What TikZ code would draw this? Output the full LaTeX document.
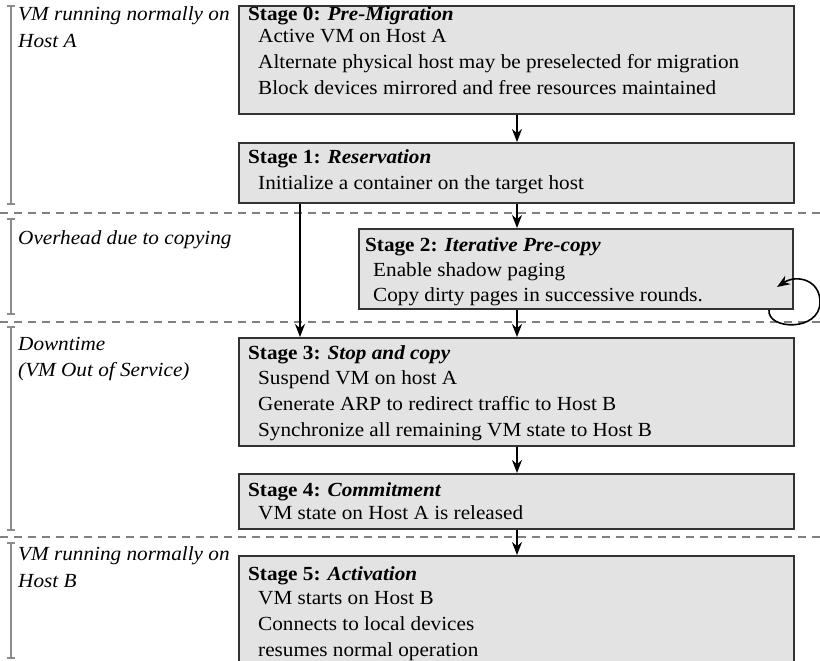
\documentclass[tikz,border=0pt]{standalone}
\usepackage{fontspec}
\setmainfont[FakeStretch=1.06]{Liberation Serif}
\usetikzlibrary{arrows.meta,calc}
\begin{document}
\begin{tikzpicture}[x=1pt,y=-1pt,
  stagebox/.style={draw=black!80,line width=2pt,fill=black!11,anchor=north west,inner sep=0pt},
  txt/.style={anchor=base west,inner sep=0pt,font=\fontsize{20}{24}\selectfont},
  lbl/.style={anchor=base west,inner sep=0pt,font=\fontsize{20}{24}\selectfont\itshape},
  arr/.style={-{Stealth[length=13pt,width=10pt]},line width=1.6pt,black},
  sep/.style={draw=black!50,line width=2pt,dash pattern=on 8pt off 6pt},
  bar/.style={draw=black!45,line width=2pt,{Bar[width=8pt]}-{Bar[width=8pt]}}
]
\clip (0,0) rectangle (820,661);
\fill[white] (0,0) rectangle (820,661);

% separators
\draw[sep] (0,213) -- (820,213);
\draw[sep] (0,322) -- (820,322);
\draw[sep] (0,537) -- (820,537);

% left bars
\draw[bar] (11,5) -- (11,205);
\draw[bar] (11,218) -- (11,315);
\draw[bar] (11,326) -- (11,531);
\draw[bar] (11,542) -- (11,659);

% left labels
\node[lbl] (l0a) at (18,21) {VM running normally on};
\node[lbl] (l0b) at (18,48) {Host A};
\node[lbl] (l1) at (18,244) {Overhead due to copying};
\node[lbl] (l2a) at (18,350) {Downtime};
\node[lbl] (l2b) at (18,376) {(VM Out of Service)};
\node[lbl] (l3a) at (18,560) {VM running normally on};
\node[lbl] (l3b) at (18,587) {Host B};

% boxes
\node[stagebox,minimum width=555pt,minimum height=108pt] (s0) at (238,5) {};
\node[stagebox,minimum width=555pt,minimum height=60pt] (s1) at (238,142) {};
\node[stagebox,minimum width=434pt,minimum height=80pt] (s2) at (358,228) {};
\node[stagebox,minimum width=555pt,minimum height=108pt] (s3) at (238,337) {};
\node[stagebox,minimum width=555pt,minimum height=55pt] (s4) at (238,473) {};
\node[stagebox,minimum width=555pt,minimum height=140pt] (s5) at (238,555) {};

% box texts
\node[txt] (t0) at (248,21) {\bfseries Stage 0: \itshape Pre-Migration};
\node[txt] (t0a) at (258,43) {Active VM on Host A};
\node[txt] (t0b) at (258,69) {Alternate physical host may be preselected for migration};
\node[txt] (t0c) at (258,95) {Block devices mirrored and free resources maintained};

\node[txt] (t1) at (248,163) {\bfseries Stage 1: \itshape Reservation};
\node[txt] (t1a) at (258,189) {Initialize a container on the target host};

\node[txt] (t2) at (365,251) {\bfseries Stage 2: \itshape Iterative Pre-copy};
\node[txt] (t2a) at (373,276) {Enable shadow paging};
\node[txt] (t2b) at (373,301) {Copy dirty pages in successive rounds.};

\node[txt] (t3) at (248,359) {\bfseries Stage 3: \itshape Stop and copy};
\node[txt] (t3a) at (258,384) {Suspend VM on host A};
\node[txt] (t3b) at (258,410) {Generate ARP to redirect traffic to Host B};
\node[txt] (t3c) at (258,436) {Synchronize all remaining VM state to Host B};

\node[txt] (t4) at (248,496) {\bfseries Stage 4: \itshape Commitment};
\node[txt] (t4a) at (258,519) {VM state on Host A is released};

\node[txt] (t5) at (248,580) {\bfseries Stage 5: \itshape Activation};
\node[txt] (t5a) at (258,604) {VM starts on Host B};
\node[txt] (t5b) at (258,630) {Connects to local devices};
\node[txt] (t5c) at (258,656) {resumes normal operation};

% connectors
\coordinate (cx) at (517,0);
\coordinate (lx) at (300,0);
\draw[arr] (s0.south -| cx) -- (s1.north -| cx);
\draw[arr] (s1.south -| cx) -- (s2.north -| cx);
\draw[arr] (s1.south -| lx) -- (s3.north -| lx);
\draw[arr] (s2.south -| cx) -- (s3.north -| cx);
\draw[arr] (s3.south -| cx) -- (s4.north -| cx);
\draw[arr] (s4.south -| cx) -- (s5.north -| cx);
\draw[arr] ($(s2.south east)+(-25,0)$) .. controls ($(s2.south east)+(-27,20)$) and ($(s2.south east)+(26,22)$) .. ($(s2.south east)+(26,-8)$)
  .. controls ($(s2.south east)+(26,-30)$) and ($(s2.south east)+(3,-36)$) .. ($(s2.south east)+(-17,-23)$);
\end{tikzpicture}
\end{document}
